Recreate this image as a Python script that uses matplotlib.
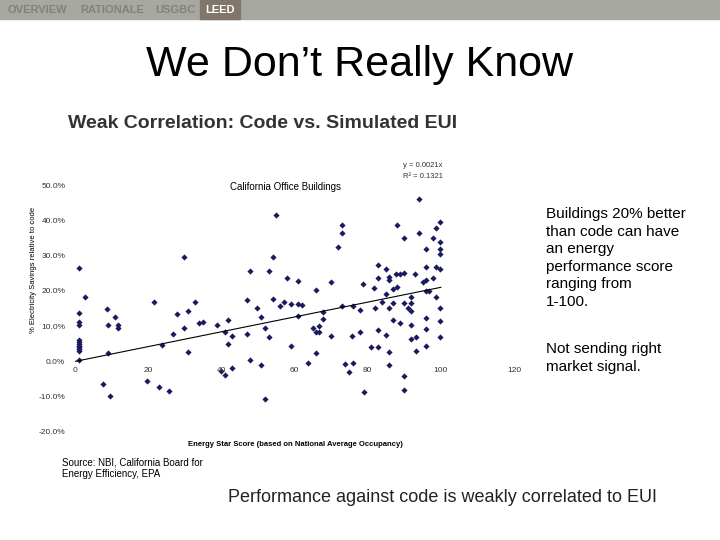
import numpy as np
import matplotlib
matplotlib.use("Agg")
import matplotlib.pyplot as plt
from matplotlib.patches import Rectangle

plt.rcParams["font.family"] = ["Liberation Sans", "DejaVu Sans"]

# ── data (Energy Star score, % electricity savings) ──────────────────────────
score = [1, 1, 1, 1, 1, 1, 1, 1, 1, 1, 1, 1, 2.8, 8.7, 8.9, 8.9, 7.6, 9.6, 10.9, 11.7, 11.7,
         21.7, 23.7, 19.8, 22.9, 25.8, 26.8, 27.8, 29.8, 29.8, 30.8, 30.8, 32.8, 33.8, 34.9,
         38.9, 39.9, 40.9, 41.0, 41.9, 41.9, 42.9, 42.9, 47, 47, 47.9, 47.9, 49.8, 50.9, 50.9,
         52, 52, 53, 52.9, 54, 54, 55, 55.9, 57, 57.9, 59, 59.1, 60.9, 60.9, 60.9, 62, 63.8,
         65, 65.9, 65.9, 65.9, 66.8, 66.8, 67.7, 67.7, 69.9, 69.9, 71.8, 72.9, 72.9, 72.9,
         73.8, 75, 75.6, 75.9, 75.9, 77.9, 77.9, 78.8, 79, 80.9, 81.8, 82, 82.9, 82.9, 82.9,
         82.9, 83.8, 85, 85, 85, 85.7, 85.7, 85.7, 85.7, 85.7, 86.8, 87, 87, 87.7, 87.9, 88.1,
         88.8, 88.8, 89.9, 89.9, 89.9, 89.9, 89.9, 90.9, 91.8, 91.8, 91.8, 91.8, 91.8, 92.9,
         93.1, 93.1, 93.9, 93.9, 95, 95.9, 95.9, 95.9, 95.9, 95.9, 95.9, 95.9, 96.8, 97.9,
         97.9, 98.8, 98.8, 98.8, 99.9, 99.9, 99.9, 99.9, 99.9, 99.9, 99.9, 99.9]
savings = [26.4, 13.6, 11.3, 10.2, 6.0, 5.5, 5.0, 4.5, 4.0, 3.5, 3.0, 0.3, 18.4, 14.8, 10.4, 2.5, -6.3, -9.7, 12.6, 10.4, 9.6,
           16.9, 4.6, -5.5, -7.2, -8.3, 7.9, 13.4, 29.5, 9.4, 14.4, 2.6, 16.9, 10.9, 11.3,
           10.4, -2.6, -3.8, 8.3, 11.6, 4.8, 7.3, -2.0, 17.4, 7.9, 25.5, 0.4, 15.2, 12.7, -0.9,
           9.4, -10.6, 25.5, 7.0, 29.5, 17.6, 41.4, 15.8, 16.9, 23.7, 16.3, 4.5, 22.7, 16.3, 12.8, 16.1, -0.4,
           9.4, 20.2, 8.2, 2.3, 10.0, 8.2, 13.9, 12.0, 22.6, 7.3, 32.4, 38.7, 36.3, 15.8,
           -0.6, -3.1, 7.3, 15.8, -0.4, 14.6, 8.4, 21.9, -8.7, 4.2, 20.9, 15.2, 27.3, 23.7, 9.0,
           4.2, 16.9, 26.1, 19.0, 7.5, 24.0, 23.1, 15.2, 2.7, -0.9, 20.4, 16.5, 11.7, 24.7, 38.7, 21.0,
           24.7, 10.8, 34.9, 25.0, 16.7, -4.0, -8.1, 15.2, 18.4, 16.5, 14.3, 10.4, 6.4, 24.7,
           7.0, 3.0, 46.1, 36.5, 22.4, 31.8, 26.9, 23.1, 20.1, 12.4, 9.2, 4.4, 20.1, 35.1,
           23.7, 37.7, 26.7, 18.4, 39.5, 33.8, 31.8, 30.4, 26.1, 15.2, 11.5, 7.0]
slope = 0.21  # % per point, from y = 0.0021x
trend_x = [0, 100]
x_ticks = [0, 20, 40, 60, 80, 100, 120]
y_ticks = [-20, -10, 0, 10, 20, 30, 40, 50]

fig = plt.figure(figsize=(7.2, 5.4), dpi=100)

# ── header bar ───────────────────────────────────────────────────────────────
fig.patches.append(Rectangle((0, 1 - 19/540), 1, 19/540, transform=fig.transFigure,
                             color="#a8a8a2", zorder=0))
fig.patches.append(Rectangle((200/720, 1 - 19/540), 40/720, 19/540, transform=fig.transFigure,
                             color="#80766a", zorder=1))
for txt, xp, col in [("OVERVIEW", 8, "#828279"), ("RATIONALE", 80, "#828279"),
                     ("USGBC", 155, "#828279"), ("LEED", 205, "white")]:
    fig.text(xp/720, 1 - 10/540, txt, fontsize=8, fontweight="bold", color=col, va="center")

fig.text(0.5, 1 - 65/540, "We Don\u2019t Really Know", fontsize=31, ha="center", va="center")
fig.text(68/720, 1 - 124/540, "Weak Correlation: Code vs. Simulated EUI", fontsize=14,
         fontweight="bold", color="#333333", va="center")

# ── scatter chart ────────────────────────────────────────────────────────────
ax = fig.add_axes([75/720, 1 - 432/540, (514 - 75)/720, (432 - 185)/540])
ax.scatter(score, savings, s=10, marker="D", color="#1a1a5e", linewidths=0)
ax.plot(trend_x, [slope * v for v in trend_x], color="black", lw=0.8)
ax.set_xlim(0, 120)
ax.set_ylim(-20, 50)
ax.set_xticks(x_ticks)
ax.set_yticks(y_ticks)
ax.set_yticklabels([f"{v:.1f}%" for v in y_ticks])
for s in ["top", "right", "left"]:
    ax.spines[s].set_visible(False)
ax.spines["bottom"].set_position(("data", 0))
ax.spines["bottom"].set_linewidth(0)
ax.tick_params(length=0, labelsize=6, colors="#333333")
ax.tick_params(axis="x", pad=4)
ax.tick_params(axis="y", pad=7)
fig.text(295/720, 1 - 444/540, "Energy Star Score (based on National Average Occupancy)",
         fontsize=5.5, fontweight="bold", ha="center", va="center")
fig.text(34/720, 1 - 270/540, "% Electricity Savings relative to code", fontsize=5.5,
         rotation=90, ha="center", va="center")
fig.text(286/720, 1 - 187/540, "California Office Buildings", fontsize=7, ha="center", va="center")
fig.text(403/720, 1 - 166/540, "y = 0.0021x", fontsize=5.5, va="center", color="#333333")
fig.text(403/720, 1 - 176/540, "R\u00b2 = 0.1321", fontsize=5.5, va="center", color="#333333")

# ── side and footer text ─────────────────────────────────────────────────────
fig.text(546/720, 1 - 207/540,
         "Buildings 20% better\nthan code can have\nan energy\nperformance score\nranging from\n1-100.",
         fontsize=11, va="top", linespacing=1.32)
fig.text(546/720, 1 - 342/540, "Not sending right\nmarket signal.", fontsize=11, va="top",
         linespacing=1.32)
fig.text(62/720, 1 - 468/540, "Source: NBI, California Board for\nEnergy Efficiency, EPA",
         fontsize=7, va="center")
fig.text(228/720, 1 - 497/540, "Performance against code is weakly correlated to EUI",
         fontsize=13, va="center", color="#222222")

fig.savefig("out.png", dpi=100)
